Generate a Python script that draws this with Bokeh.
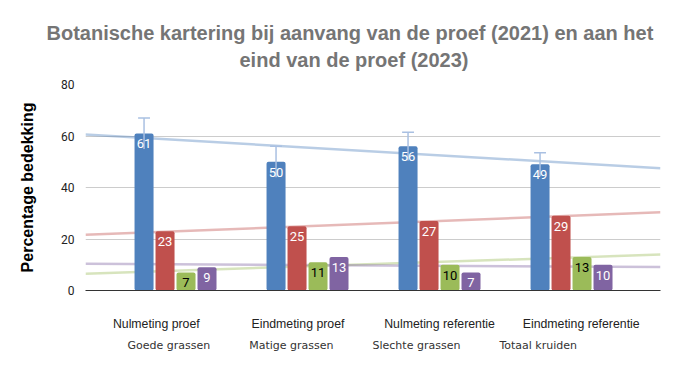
import numpy as np
from bokeh.plotting import figure
from bokeh.layouts import column
from bokeh.models import Range1d, LinearAxis, FixedTicker, Legend, LegendItem, Title
from bokeh.core.properties import value
from bokeh.embed import file_html
from bokeh.resources import INLINE

# ---- data ----
title_lines = ["Botanische kartering  bij aanvang van de proef (2021) en aan het",
               "eind van de proef (2023)"]
categories = ["Nulmeting proef", "Eindmeting proef", "Nulmeting referentie", "Eindmeting referentie"]
series_names = ["Goede grassen", "Matige grassen", "Slechte grassen", "Totaal kruiden"]
goede = [61, 50, 56, 49]
matige = [23, 25, 27, 29]
slechte = [7, 11, 10, 13]
kruiden = [9, 13, 7, 10]
goede_err = [6, 6, 5.5, 4.5]
y_ticks = [0, 20, 40, 60, 80]
y_label = "Percentage bedekking"

# ---- styles ----
colors = ["#4f81bd", "#c0504d", "#9bbb59", "#8064a2"]
label_colors = ["white", "white", "black", "white"]
X_START, X_END = -0.682, 3.674
BAR_W, STEP = 0.144, 0.159

p = figure(frame_width=575, frame_height=206,
           x_range=Range1d(X_START, X_END), y_range=Range1d(0, 80),
           output_backend="svg", toolbar_location=None, x_axis_type=None,
           min_border_left=85, min_border_right=19, min_border_top=84, min_border_bottom=45)
p.outline_line_color = None
p.background_fill_color = "white"
p.border_fill_color = "white"

# title: two lines, second one nearest to the frame is added first
t2 = Title(text=title_lines[1], align="left", offset=154, vertical_align="bottom", standoff=28,
           text_font="Liberation Sans", text_font_style="bold", text_font_size="20px",
           text_color="#757575")
t1 = Title(text=title_lines[0], align="left", offset=-39, vertical_align="bottom", standoff=-22,
           text_font="Liberation Sans", text_font_style="bold", text_font_size="20px",
           text_color="#757575")
p.add_layout(t2, "above")
p.add_layout(t1, "above")

p.yaxis.ticker = FixedTicker(ticks=y_ticks)
p.ygrid.ticker = FixedTicker(ticks=y_ticks)
p.ygrid.grid_line_color = "#cccccc"
p.yaxis.axis_line_color = None
p.yaxis.major_tick_line_color = None
p.yaxis.minor_tick_line_color = None
p.yaxis.major_label_standoff = 5
p.yaxis.major_label_text_font = "Roboto"
p.yaxis.major_label_text_font_size = "12px"
p.yaxis.major_label_text_color = "#222222"
p.yaxis.axis_label = y_label
p.yaxis.axis_label_text_font = "Liberation Sans"
p.yaxis.axis_label_text_font_style = "bold"
p.yaxis.axis_label_text_font_size = "16px"
p.yaxis.axis_label_text_color = "#000000"
p.yaxis.axis_label_standoff = 22

n = len(categories)
p.extra_x_ranges = {"lab": Range1d(0, 4.06)}
tick_pos = [i + 0.5 for i in range(n)]
xa = LinearAxis(x_range_name="lab", ticker=FixedTicker(ticks=tick_pos),
                major_label_overrides={t: c for t, c in zip(tick_pos, categories)})
xa.axis_line_color = "#333333"
xa.major_tick_line_color = None
xa.minor_tick_line_color = None
xa.major_tick_out = 0
xa.major_tick_in = 0
xa.major_label_standoff = 26
xa.major_label_text_font = "Liberation Sans"
xa.major_label_text_font_size = "12.3px"
xa.major_label_text_color = "#222222"
p.add_layout(xa, "below")

all_series = [goede, matige, slechte, kruiden]
idx = np.arange(n)

# trend lines (behind bars)
for vals, col in zip(all_series, colors):
    coef = np.polyfit(idx, vals, 1)
    xs = [X_START, X_END]
    p.line(xs, list(np.polyval(coef, xs)), line_color=col, line_alpha=0.4, line_width=2.5)

# bars
bar_x = []
for k, (vals, col) in enumerate(zip(all_series, colors)):
    xs = [i + (k - 1.5) * STEP for i in range(n)]
    bar_x.append(xs)
    p.vbar(x=xs, top=vals, width=BAR_W, fill_color=col, line_color=None, border_radius=2)

# error bars on first series
bx = bar_x[0]
lo = [v - e for v, e in zip(goede, goede_err)]
hi = [v + e for v, e in zip(goede, goede_err)]
p.segment(x0=bx, x1=bx, y0=lo, y1=hi, line_color="#a9c0e2", line_width=1.5)
p.segment(x0=[x - 0.045 for x in bx], x1=[x + 0.045 for x in bx], y0=hi, y1=hi,
          line_color="#a9c0e2", line_width=1.5)

# value labels
for k, vals in enumerate(all_series):
    p.text(x=bar_x[k], y=vals, text=[str(v) for v in vals], text_align="center",
           text_baseline="middle", y_offset=10.5, text_font=value("Roboto"),
           text_font_size="13px", text_color=label_colors[k])

# ---- legend strip below the chart ----
lf = figure(frame_width=575, frame_height=30, x_range=Range1d(0, 1), y_range=Range1d(0, 1),
            output_backend="svg", toolbar_location=None, x_axis_type=None, y_axis_type=None,
            min_border_left=85, min_border_right=19, min_border_top=0, min_border_bottom=0)
lf.outline_line_color = None
lf.grid.visible = False
leg_renderers = [lf.vbar(x=[], top=[], width=0.1, fill_color=col, line_color=None)
                 for col in colors]
legend = Legend(items=[LegendItem(label=s, renderers=[r]) for s, r in zip(series_names, leg_renderers)],
                orientation="horizontal", location=(19.5, 12.5), glyph_width=15, glyph_height=15,
                label_standoff=8, spacing=16, padding=0, margin=0, border_line_color=None,
                background_fill_alpha=0, label_text_font="DejaVu Sans", label_text_font_size="11px",
                label_text_color="#333333", label_height=15)
lf.add_layout(legend)

layout = column(p, lf, spacing=0)
open("out.html", "w").write(file_html(layout, INLINE))
